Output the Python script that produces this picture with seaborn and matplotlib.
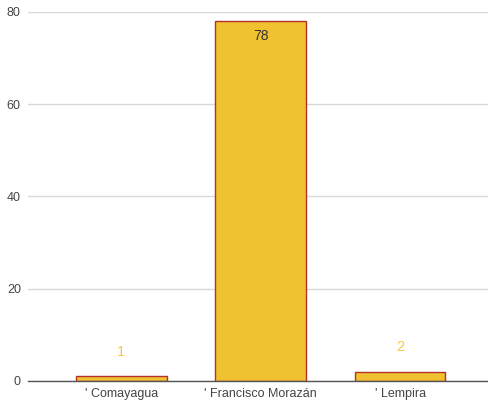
import matplotlib
matplotlib.use('Agg')
import matplotlib.pyplot as plt
import seaborn as sns
import pandas as pd

departments = ["' Comayagua", "' Francisco Morazán", "' Lempira"]
counts = [1, 78, 2]
yticks = [0, 20, 40, 60, 80]

df = pd.DataFrame({'departamento': departments, 'total': counts})

sns.set_style('white')
plt.rcParams['font.family'] = ['Liberation Sans', 'DejaVu Sans']

fig = plt.figure(figsize=(4.88, 4.11), dpi=100)
ax = fig.add_axes([0.057, 0.073, 0.943, 0.898])

sns.barplot(data=df, x='departamento', y='total', color='#F0C232',
            edgecolor='#B5302A', linewidth=1.0, width=0.65, saturation=1, ax=ax)

# value labels: small bars get label above, big bar label inside
for i, v in enumerate(counts):
    if v > 40:
        ax.text(i, v - 1.8, str(v), ha='center', va='top', fontsize=10, color='#333333')
    else:
        ax.text(i, v + 3.8, str(v), ha='center', va='bottom', fontsize=10.5, color='#F5C744')

ax.set_ylim(0, 80)
ax.set_xlim(-0.67, 2.63)
ax.set_yticks(yticks)
ax.yaxis.grid(True, color='#d9d9d9', linewidth=1)
ax.set_axisbelow(True)
ax.set_xlabel('')
ax.set_ylabel('')
for s in ['top', 'right', 'left']:
    ax.spines[s].set_visible(False)
ax.spines['bottom'].set_color('#555555')
ax.spines['bottom'].set_linewidth(1)
ax.tick_params(axis='both', length=0, labelsize=9, colors='#444444')
ax.tick_params(axis='y', pad=5)
ax.tick_params(axis='x', pad=5)

fig.savefig('out.png', dpi=100)
